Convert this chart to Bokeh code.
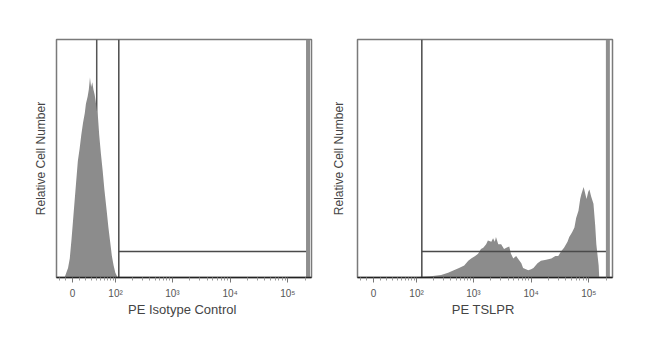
import math
from bokeh.plotting import figure
from bokeh.layouts import row
from bokeh.models import FixedTicker, Range1d
from bokeh.embed import file_html
from bokeh.resources import INLINE

# ---- data (x in display "decade" units of the biexponential PE axis, y = relative count %) ----
iso_x = [1.13, 1.16, 1.19, 1.22, 1.25, 1.27, 1.29, 1.31, 1.33, 1.36, 1.39, 1.42, 1.45, 1.48,
         1.50, 1.53, 1.55, 1.57, 1.59, 1.61, 1.63, 1.65, 1.67, 1.69, 1.71, 1.73, 1.76, 1.79,
         1.82, 1.86, 1.89, 1.92, 1.95, 1.98, 2.01, 2.05]
iso_h = [0, 2, 4, 8, 16, 22, 28, 34, 40, 49, 54, 60, 65, 69,
         73, 76, 79, 84, 80, 82, 79, 77, 74, 70, 67, 60, 52, 45,
         37, 28, 21, 15, 9, 5, 2, 0]

tslpr_x = [2.00, 2.09, 2.26, 2.44, 2.56, 2.66, 2.75, 2.84, 2.91, 2.96, 3.03, 3.08, 3.13, 3.17,
           3.22, 3.25, 3.31, 3.34, 3.37, 3.39, 3.43, 3.48, 3.53, 3.57, 3.62, 3.65, 3.69, 3.74,
           3.77, 3.83, 3.86, 3.91, 3.95, 4.00, 4.04, 4.11, 4.17, 4.26, 4.35, 4.42, 4.47, 4.52,
           4.57, 4.63, 4.66, 4.71, 4.75, 4.78, 4.82, 4.85, 4.87, 4.91, 4.92, 4.96, 4.99, 5.01,
           5.04, 5.08, 5.11, 5.13, 5.17, 5.18]
tslpr_h = [0, 0.3, 0.5, 1, 2, 3, 4, 5, 7, 8, 9, 10, 12, 12.5,
           14, 15.5, 15, 16.5, 15, 17, 14, 14, 12, 12.5, 13, 10, 8, 9,
           8, 6, 4, 3.5, 3, 3.5, 4, 6, 7, 7.5, 8, 9, 9, 11,
           12.5, 15, 17, 19, 21, 25, 28, 33, 35, 38, 37, 33, 36, 37,
           34, 31, 22, 14, 5, 0]

# gates: [start, end] in display units, gate height in %
iso_marker = 1.687
iso_gate = [2.07, 5.35]
tslpr_gate = [2.105, 5.33]
gate_height = 10.9

tick_values = [0, 100, 1000, 10000, 100000]
tick_labels = ["0", "10\u00b2", "10\u00b3", "10\u2074", "10\u2075"]
minor_values = ([-20, -10, 10, 20, 30, 40, 50, 60, 70, 80, 90] +
                [k * 10 ** d for d in (2, 3, 4) for k in range(2, 10)] + [200000])

C = 18.6


def biex(v):
    return round(math.log10(C) + math.asinh(v / (2 * C)) / math.log(10), 4)


major = [biex(v) for v in tick_values]
minor = [biex(v) for v in minor_values]

FONT = "Liberation Sans"


def panel(xs, hs, gate, marker, xlabel, border_left, border_right, ylab_standoff):
    p = figure(width=border_left + 255 + border_right, height=357,
               x_range=Range1d(0.99, 5.41), y_range=Range1d(0, 100),
               output_backend="svg", toolbar_location=None,
               min_border_left=border_left, min_border_right=border_right,
               min_border_top=39, min_border_bottom=80)
    p.grid.visible = False
    p.outline_line_color = "#7a7a7a"
    p.outline_line_width = 1.5
    p.background_fill_color = "white"
    p.border_fill_color = "white"

    if marker is not None:
        p.segment(x0=[marker], y0=[0], x1=[marker], y1=[100], line_color="#555555", line_width=1.5)
    p.varea(x=xs, y1=[0] * len(xs), y2=hs, fill_color="#8c8c8c")
    g0, g1 = gate
    p.segment(x0=[g0, g0], y0=[0, gate_height], x1=[g0, g1], y1=[100, gate_height],
              line_color="#4a4a4a", line_width=1.5)
    p.segment(x0=[g1], y0=[0], x1=[g1], y1=[100], line_color="#8f8f8f", line_width=4)

    xa = p.xaxis[0]
    xa.ticker = FixedTicker(ticks=major, minor_ticks=minor)
    xa.major_label_overrides = {m: t for m, t in zip(major, tick_labels)}
    xa.axis_line_color = "#222222"
    xa.axis_line_width = 1.5
    xa.major_tick_in = 0
    xa.major_tick_out = 5
    xa.minor_tick_in = 0
    xa.minor_tick_out = 3
    xa.major_tick_line_color = "#777777"
    xa.minor_tick_line_color = "#999999"
    xa.major_label_standoff = 5
    xa.major_label_text_font = FONT
    xa.major_label_text_font_size = "10px"
    xa.major_label_text_color = "#555555"
    xa.axis_label = xlabel
    xa.axis_label_text_font = FONT
    xa.axis_label_text_font_size = "13px"
    xa.axis_label_text_font_style = "normal"
    xa.axis_label_text_color = "#444444"
    xa.axis_label_standoff = 0

    ya = p.yaxis[0]
    ya.ticker = FixedTicker(ticks=[])
    ya.axis_line_color = None
    ya.major_tick_out = 0
    ya.major_tick_in = 0
    ya.minor_tick_out = 0
    ya.minor_tick_in = 0
    ya.major_label_standoff = 0
    ya.major_label_text_font_size = "0px"
    ya.axis_label = "Relative Cell Number"
    ya.axis_label_text_font = FONT
    ya.axis_label_text_font_size = "12px"
    ya.axis_label_text_font_style = "normal"
    ya.axis_label_text_color = "#444444"
    ya.axis_label_standoff = ylab_standoff
    return p


p1 = panel(iso_x, iso_h, iso_gate, iso_marker, "PE  Isotype Control", 56, 14, 9)
p2 = panel(tslpr_x, tslpr_h, tslpr_gate, None, "PE  TSLPR", 32, 38, 12)

layout = row(p1, p2)
open("out.html", "w").write(file_html(layout, INLINE))
